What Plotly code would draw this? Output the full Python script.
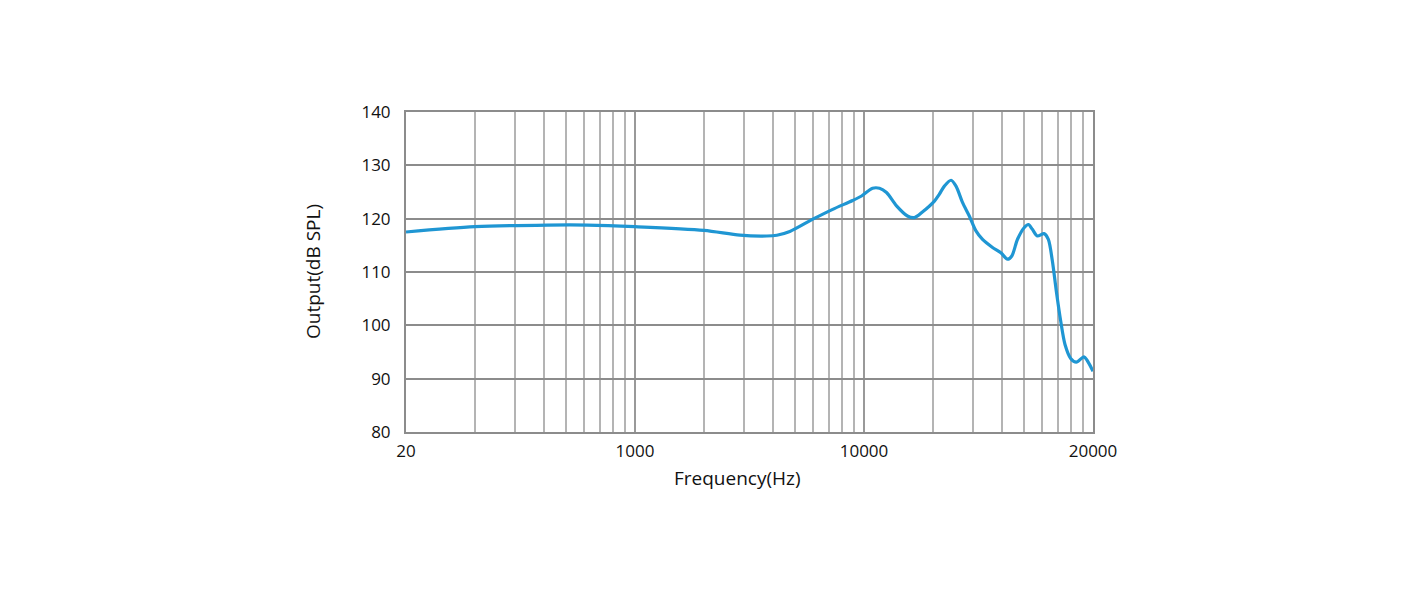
import plotly.graph_objects as go

# x positions are in axis units (log axis spanning 100..100000, labelled 20..20000)
freq = [100, 200, 415, 620, 1000, 2000, 2873, 3767, 4164, 4745, 5976, 7300, 8920, 9760,
        10900, 11690, 12540, 13870, 15480, 16610, 17990, 20300, 21340, 22440, 23990,
        25220, 26950, 28830, 30830, 32930, 36410, 39600, 42310, 44210, 46770, 50030,
        52230, 54360, 57150, 61130, 63830, 66440, 69160, 72270, 75460, 79900, 84530,
        91300, 94360, 100000]
spl = [117.5, 118.5, 118.8, 118.8, 118.5, 117.8, 116.9, 116.75, 116.9, 117.6, 119.9,
       121.75, 123.4, 124.25, 125.7, 125.7, 124.9, 122.4, 120.5, 120.2, 121.25, 123.3,
       124.6, 126.1, 127.2, 126.1, 123.0, 120.5, 117.7, 116.1, 114.6, 113.6, 112.4,
       113.0, 116.1, 118.3, 118.9, 118.0, 116.75, 117.2, 116.1, 112.1, 106.4, 100.8,
       96.4, 93.8, 93.1, 94.1, 93.4, 91.4]

major_vals = [100, 1000, 10000, 100000]
major_text = ["20", "1000", "10000", "20000"]
minor_vals = [m * d for d in (100, 1000, 10000) for m in range(2, 10)]
y_ticks = [80, 90, 100, 110, 120, 130, 140]

fig = go.Figure()
fig.add_trace(go.Scatter(
    x=freq, y=spl, mode="lines",
    line=dict(color="#1f96d3", width=3.2, shape="spline", smoothing=0.8),
    hoverinfo="skip", showlegend=False,
))

fig.update_layout(
    width=1418, height=591,
    margin=dict(l=398, r=333, t=104, b=167),
    paper_bgcolor="white", plot_bgcolor="white",
    font=dict(family="Open Sans", color="#111111"),
    xaxis=dict(
        type="log", range=[2, 5],
        tickmode="array", tickvals=major_vals, ticktext=major_text,
        tickfont=dict(size=17, family="Open Sans", color="#111111"),
        showgrid=True, gridcolor="#999999", gridwidth=2,
        minor=dict(tickmode="array", tickvals=minor_vals, showgrid=True,
                   gridcolor="#b4b4b4", gridwidth=2, ticks=""),
        showline=True, linecolor="#8c8c8c", linewidth=2, mirror=True,
        ticks="outside", ticklen=3, tickcolor="white", zeroline=False,
    ),
    yaxis=dict(
        range=[80, 140],
        tickmode="array", tickvals=y_ticks,
        tickfont=dict(size=17, family="Open Sans", color="#111111"),
        showgrid=True, gridcolor="#8c8c8c", gridwidth=2,
        showline=True, linecolor="#8c8c8c", linewidth=2, mirror=True,
        ticks="outside", ticklen=10, tickcolor="white", zeroline=False,
    ),
    annotations=[
        dict(text="Frequency(Hz)", xref="paper", yref="paper", x=0.483, y=0,
             yshift=-61, showarrow=False, font=dict(size=19, family="Open Sans", color="#111111")),
        dict(text="Output(dB SPL)", xref="paper", yref="paper", x=0, y=0.5,
             xshift=-108, textangle=-90, showarrow=False,
             font=dict(size=19, family="Open Sans", color="#111111")),
    ],
)

fig.write_html("out.html")
